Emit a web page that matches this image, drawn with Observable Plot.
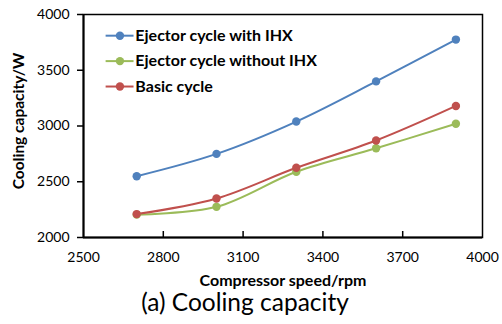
<!DOCTYPE html>
<html><head><meta charset="utf-8">
<script src="https://cdn.jsdelivr.net/npm/d3@7"></script>
<script src="https://cdn.jsdelivr.net/npm/@observablehq/plot@0.6"></script>
<style>body{margin:0;background:#fff}</style>
</head><body><div id="chart"></div>
<script>
const speeds = [2700, 3000, 3300, 3600, 3900];
const seriesNames = ["Ejector cycle with IHX", "Ejector cycle without IHX", "Basic cycle"];
const withIHX = [2550, 2750, 3040, 3400, 3775];
const withoutIHX = [2205, 2275, 2590, 2800, 3020];
const basic = [2210, 2350, 2625, 2870, 3180];
const colors = ["#4F81BD", "#9BBB59", "#C0504D"];
const xTicks = [2500, 2800, 3100, 3400, 3700, 4000];
const yTicks = [2000, 2500, 3000, 3500, 4000];

const values = [withIHX, withoutIHX, basic];
const data = [];
seriesNames.forEach((s, i) => speeds.forEach((x, j) => data.push({series: s, x, y: values[i][j]})));
const legend = seriesNames.map((s, i) => ({series: s, row: i}));
const legendY = d => 3810 - d.row * 228;

const font = "Lato, 'Open Sans', sans-serif";
const fmt = d => String(d);
const plot = Plot.plot({
  width: 502, height: 324,
  marginLeft: 83, marginRight: 20, marginTop: 14, marginBottom: 87,
  style: {fontFamily: font, fontSize: "14px", color: "#000", background: "#fff"},
  x: {domain: [2500, 4000], ticks: xTicks},
  y: {domain: [2000, 4000], ticks: yTicks},
  color: {domain: seriesNames, range: colors},
  marks: [
    Plot.axisY({ticks: yTicks, tickSize: 6, tickPadding: 8, tickFormat: fmt, label: null, fontSize: 14, strokeWidth: 1.5}),
    Plot.axisX({ticks: xTicks, tickSize: 0, tickPadding: 15, tickFormat: fmt, label: null, fontSize: 14}),
    Plot.axisX({ticks: xTicks.slice(1, -1), tickSize: 6, dy: -6, text: null, label: null, strokeWidth: 1.5}),
    Plot.line(data, {x: "x", y: "y", z: "series", stroke: "series", strokeWidth: 2, curve: "catmull-rom"}),
    Plot.dot(data, {x: "x", y: "y", fill: "series", r: 4.2}),
    Plot.frame({stroke: "#000", strokeWidth: 1.5}),
    Plot.ruleX([2500], {stroke: "#000", strokeWidth: 2}),
    Plot.ruleY([2000], {stroke: "#000", strokeWidth: 2}),
    // legend
    Plot.ruleY(legend, {x1: 2585, x2: 2690, y: legendY, stroke: d => d.series, strokeWidth: 2}),
    Plot.dot(legend, {x: 2637, y: legendY, fill: d => d.series, r: 4.2}),
    Plot.text(legend, {x: 2695, y: legendY, text: "series", textAnchor: "start", fontWeight: "bold", fontSize: 16, fill: "#000"}),
    Plot.text(["Cooling capacity/W"], {frameAnchor: "left", textAnchor: "middle", dx: -64, dy: -5, rotate: -90, fontWeight: "bold", fontSize: 15.5, fill: "#000"}),
    Plot.text(["Compressor speed/rpm"], {frameAnchor: "bottom", dy: 48, fontWeight: "bold", fontSize: 16, fill: "#000"}),
    Plot.text(["(a) Cooling capacity"], {frameAnchor: "bottom", dy: 73, dx: -38, fontSize: 24.5, fill: "#000"})
  ]
});
document.getElementById("chart").appendChild(plot);
</script></body></html>
